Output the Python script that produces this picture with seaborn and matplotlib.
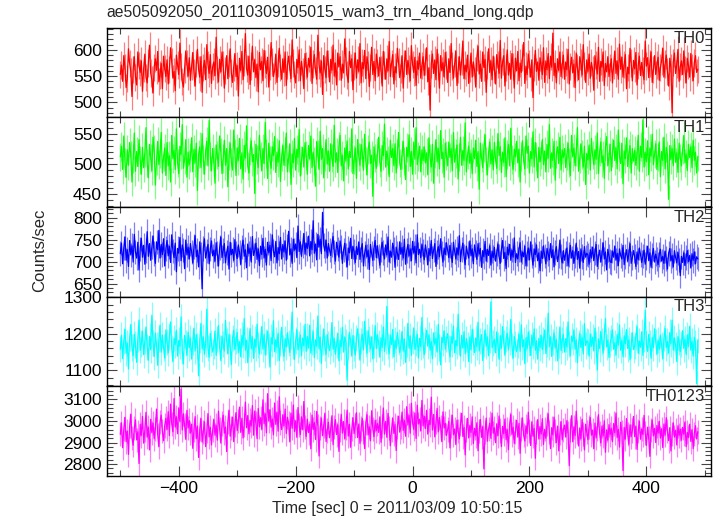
import numpy as np
import pandas as pd
import matplotlib
matplotlib.use("Agg")
import matplotlib.pyplot as plt
from matplotlib.ticker import MultipleLocator
import seaborn as sns

# light curve bins: start time and bin width in seconds
t_start = -500
t_step = 2

title = "ae505092050_20110309105015_wam3_trn_4band_long.qdp"
bands = ["TH0", "TH1", "TH2", "TH3", "TH0123"]
colors = ["#ff0000", "#00ff00", "#0000ff", "#00ffff", "#ff00ff"]
errors = [26, 24, 28, 36, 56]

th0 = [553, 571, 540, 589, 566, 528, 545, 602, 574, 559, 511, 562, 587, 548, 533, 596, 570, 557, 579, 521,
       564, 592, 548, 537, 575, 609, 556, 543, 518, 567, 583, 561, 597, 539, 552, 574, 526, 588, 565, 549,
       581, 535, 562, 604, 577, 546, 559, 522, 590, 571, 553, 613, 568, 540, 529, 563, 598, 574, 550, 585,
       542, 569, 595, 557, 531, 574, 601, 562, 548, 587, 519, 566, 580, 543, 610, 572, 555, 591, 536, 568,
       577, 551, 624, 563, 539, 582, 558, 596, 571, 527, 560, 589, 545, 574, 602, 556, 538, 567, 593, 549,
       570, 512, 584, 561, 597, 543, 576, 631, 564, 552, 588, 534, 569, 607, 558, 581, 547, 573, 520, 595,
       562, 578, 541, 599, 573, 555, 586, 529, 568, 614, 577, 549, 561, 592, 538, 574, 603, 566, 544, 583,
       557, 596, 532, 571, 588, 564, 545, 619, 575, 553, 537, 582, 566, 600, 541, 578, 559, 526, 593, 570,
       548, 584, 567, 605, 536, 573, 591, 560, 544, 628, 571, 556, 579, 515, 589, 563, 547, 598, 574, 539,
       582, 561, 609, 550, 575, 533, 594, 568, 587, 542, 573, 556, 621, 579, 552, 538, 597, 566, 583, 524,
       569, 594, 546, 581, 559, 612, 537, 576, 564, 599, 545, 587, 572, 530, 566, 605, 553, 578, 541, 592,
       575, 550, 586, 563, 531, 597, 571, 544, 583, 560, 616, 549, 574, 591, 535, 568, 556, 603, 577, 547,
       562, 589, 527, 574, 598, 553, 580, 565, 541, 608, 572, 557, 586, 532, 579, 563, 594, 546, 570, 587,
       551, 578, 604, 539, 566, 485, 573, 592, 555, 581, 543, 601, 568, 527, 589, 560, 576, 548, 595, 571,
       538, 583, 557, 612, 569, 546, 574, 598, 532, 563, 587, 552, 579, 617, 545, 571, 558, 590, 536, 565,
       594, 548, 577, 561, 529, 585, 607, 554, 573, 540, 596, 566, 582, 519, 571, 602, 557, 579, 543, 588,
       563, 535, 591, 572, 555, 618, 546, 578, 589, 531, 567, 600, 552, 574, 544, 593, 568, 527, 584, 560,
       597, 541, 575, 557, 586, 614, 536, 569, 553, 592, 574, 548, 581, 509, 566, 599, 559, 577, 542, 585,
       571, 553, 604, 538, 579, 562, 593, 545, 588, 567, 632, 551, 574, 537, 583, 561, 596, 549, 572, 590,
       544, 577, 562, 601, 535, 568, 586, 556, 573, 528, 594, 566, 543, 587, 575, 552, 610, 569, 538, 581,
       559, 592, 546, 576, 563, 523, 589, 571, 554, 605, 540, 578, 567, 596, 532, 574, 558, 587, 549, 566,
       583, 537, 571, 598, 555, 579, 544, 611, 563, 586, 548, 572, 591, 526, 567, 554, 603, 575, 541, 580,
       564, 595, 533, 570, 588, 551, 576, 560, 543, 617, 569, 585, 547, 574, 596, 538, 562, 589, 553, 571,
       586, 542, 566, 579, 603, 548, 573, 590, 559, 531, 584, 567, 480, 576, 594, 555, 572, 601, 540, 568,
       579, 553, 598, 562, 537, 584, 570, 548, 593, 566, 541, 575, 589, 557, 563]

th1 = [512, 530, 491, 547, 503, 478, 524, 498, 536, 515, 470, 509, 552, 488, 521, 496, 541, 507, 483, 528,
       494, 519, 561, 502, 477, 533, 510, 489, 545, 524, 465, 506, 538, 499, 518, 553, 485, 512, 527, 481,
       536, 497, 514, 470, 548, 509, 523, 491, 559, 502, 484, 530, 516, 566, 493, 507, 541, 478, 520, 499,
       511, 544, 487, 525, 502, 535, 456, 517, 529, 494, 551, 508, 483, 522, 538, 497, 573, 513, 489, 526,
       504, 468, 532, 515, 496, 547, 520, 484, 509, 540, 498, 526, 462, 514, 535, 503, 490, 557, 518, 481,
       527, 506, 543, 492, 519, 475, 531, 510, 564, 497, 485, 522, 539, 504, 516, 451, 533, 508, 494, 548,
       513, 489, 526, 501, 570, 518, 476, 535, 507, 493, 529, 514, 546, 486, 520, 503, 539, 471, 512, 531,
       498, 521, 552, 487, 510, 534, 466, 517, 502, 543, 490, 525, 511, 558, 480, 506, 528, 495, 536, 514,
       483, 531, 509, 547, 494, 520, 505, 463, 538, 517, 491, 555, 508, 526, 477, 513, 541, 500, 522, 488,
       534, 510, 496, 565, 503, 519, 486, 530, 548, 497, 515, 472, 527, 506, 539, 492, 521, 511, 559, 484,
       508, 527, 476, 541, 512, 498, 533, 519, 490, 550, 505, 482, 524, 537, 501, 515, 446, 529, 510, 493,
       520, 545, 503, 488, 531, 514, 567, 495, 522, 507, 479, 540, 511, 526, 497, 534, 485, 518, 553, 502,
       491, 516, 538, 505, 474, 528, 512, 549, 496, 521, 483, 537, 508, 561, 499, 513, 530, 487, 524, 506,
       529, 502, 519, 482, 544, 510, 495, 533, 468, 517, 541, 504, 526, 492, 556, 509, 520, 478, 535, 514,
       497, 537, 511, 526, 489, 553, 503, 518, 532, 475, 512, 545, 498, 523, 506, 569, 487, 515, 530, 501,
       518, 484, 527, 509, 540, 496, 521, 458, 535, 511, 494, 528, 549, 505, 482, 519, 537, 500, 524, 490,
       536, 507, 493, 551, 514, 529, 486, 520, 503, 544, 479, 516, 533, 497, 560, 508, 491, 525, 512, 538,
       502, 525, 470, 513, 539, 506, 492, 547, 518, 530, 485, 521, 509, 554, 495, 536, 513, 477, 528, 504,
       515, 541, 499, 522, 487, 533, 510, 566, 493, 519, 506, 538, 473, 517, 529, 501, 545, 490, 524, 511,
       526, 494, 514, 535, 503, 481, 548, 512, 527, 497, 520, 561, 488, 509, 534, 516, 495, 530, 466, 518,
       507, 532, 490, 543, 515, 499, 524, 508, 552, 484, 521, 537, 502, 514, 476, 529, 546, 497, 511, 533,
       489, 519, 540, 506, 527, 492, 557, 513, 501, 535, 467, 522, 509, 544, 496, 518, 531, 485, 526, 505,
       523, 498, 516, 548, 488, 530, 511, 574, 495, 520, 504, 539, 482, 527, 513, 550, 499, 517, 534, 491,
       512, 537, 479, 521, 506, 545, 492, 528, 515, 441, 531, 508, 526, 497, 542, 503, 519, 486, 535, 510,
       497, 524, 548, 502, 517, 489, 533, 511, 529, 494, 540, 506, 520, 485, 513]

th2 = [718, 742, 695, 731, 756, 703, 727, 689, 748, 715, 736, 699, 762, 722, 708, 744, 681, 729, 753, 710,
       737, 694, 725, 768, 712, 741, 703, 733, 758, 719, 696, 745, 727, 771, 708, 739, 716, 752, 690, 730,
       748, 713, 735, 698, 761, 724, 709, 742, 677, 730, 719, 755, 702, 738, 726, 684, 749, 715, 733, 706,
       741, 722, 697, 734, 759, 711, 726, 688, 745, 717, 638, 730, 752, 708, 724, 739, 695, 729, 747, 713,
       726, 701, 743, 718, 690, 732, 756, 709, 725, 741, 697, 721, 735, 683, 744, 716, 728, 703, 750, 719,
       707, 738, 721, 694, 733, 749, 712, 727, 686, 740, 718, 731, 699, 757, 714, 725, 742, 705, 729, 691,
       735, 716, 753, 708, 728, 692, 744, 720, 737, 702, 761, 724, 711, 746, 697, 732, 718, 755, 706, 739,
       722, 747, 703, 734, 769, 715, 729, 696, 751, 726, 740, 709, 781, 723, 745, 712, 736, 764, 717, 742,
       730, 758, 713, 746, 727, 793, 719, 740, 704, 762, 733, 751, 718, 812, 737, 724, 749, 708, 741, 726,
       714, 739, 757, 722, 701, 744, 729, 710, 747, 733, 696, 726, 742, 715, 688, 731, 720, 753, 707, 735,
       723, 698, 734, 716, 745, 705, 728, 741, 690, 719, 737, 711, 726, 682, 739, 718, 703, 731, 748, 709,
       736, 713, 692, 727, 744, 721, 706, 738, 715, 756, 699, 724, 710, 742, 728, 687, 733, 719, 705, 745,
       717, 732, 708, 751, 694, 725, 739, 713, 729, 702, 746, 720, 735, 697, 761, 716, 728, 709, 740, 723,
       704, 738, 721, 693, 730, 714, 748, 707, 726, 741, 689, 722, 734, 711, 752, 718, 699, 731, 716, 743,
       726, 709, 737, 716, 698, 744, 723, 706, 731, 715, 759, 700, 727, 742, 712, 693, 735, 720, 708, 747,
       713, 729, 695, 738, 722, 705, 741, 717, 730, 687, 725, 711, 746, 701, 728, 714, 736, 692, 724, 709,
       732, 701, 719, 740, 712, 696, 727, 748, 707, 721, 684, 733, 715, 739, 703, 726, 710, 754, 698, 718,
       706, 728, 743, 699, 722, 711, 735, 690, 718, 731, 704, 745, 713, 692, 729, 716, 738, 702, 720, 679,
       724, 707, 736, 713, 695, 730, 718, 704, 741, 709, 727, 688, 721, 734, 700, 714, 749, 711, 697, 725,
       703, 719, 731, 690, 716, 737, 708, 725, 696, 713, 742, 705, 723, 685, 729, 712, 698, 734, 710, 719,
       715, 694, 727, 708, 733, 702, 720, 739, 689, 711, 726, 699, 717, 743, 706, 722, 681, 728, 713, 700,
       698, 724, 710, 735, 703, 719, 691, 729, 714, 706, 737, 693, 712, 727, 701, 718, 741, 696, 709, 725,
       711, 689, 722, 704, 731, 716, 698, 713, 726, 694, 709, 735, 702, 720, 687, 714, 730, 699, 717, 706,
       693, 716, 728, 701, 712, 696, 724, 707, 683, 719, 730, 702, 714, 688, 725, 709, 697, 721, 704, 668,
       712, 698, 720, 691, 709, 725, 700, 714, 686, 718, 703, 722, 695, 711, 706]

th3 = [1158, 1196, 1132, 1181, 1213, 1147, 1175, 1104, 1189, 1226, 1163, 1140, 1199, 1171, 1122, 1186, 1238, 1155, 1174, 1207,
       1143, 1180, 1219, 1165, 1128, 1193, 1157, 1251, 1176, 1138, 1202, 1169, 1114, 1185, 1224, 1150, 1197, 1163, 1134, 1211,
       1177, 1148, 1193, 1233, 1160, 1125, 1188, 1171, 1210, 1139, 1182, 1166, 1247, 1154, 1118, 1196, 1175, 1142, 1205, 1162,
       1189, 1131, 1178, 1216, 1153, 1198, 1167, 1085, 1184, 1229, 1159, 1192, 1144, 1173, 1268, 1161, 1136, 1201, 1176, 1150,
       1167, 1208, 1141, 1185, 1223, 1162, 1128, 1194, 1172, 1153, 1237, 1180, 1146, 1199, 1164, 1116, 1188, 1210, 1157, 1181,
       1204, 1149, 1179, 1137, 1196, 1169, 1242, 1155, 1183, 1121, 1174, 1215, 1160, 1192, 1133, 1186, 1163, 1227, 1170, 1145,
       1181, 1220, 1158, 1199, 1142, 1177, 1208, 1166, 1109, 1190, 1172, 1236, 1151, 1184, 1163, 1202, 1127, 1175, 1218, 1161,
       1138, 1187, 1164, 1203, 1176, 1149, 1195, 1260, 1168, 1130, 1182, 1211, 1156, 1173, 1197, 1140, 1189, 1167, 1226, 1152,
       1193, 1161, 1224, 1147, 1178, 1206, 1135, 1184, 1166, 1249, 1159, 1191, 1119, 1179, 1213, 1162, 1143, 1198, 1173, 1154,
       1176, 1231, 1158, 1187, 1144, 1170, 1201, 1126, 1183, 1164, 1218, 1150, 1192, 1177, 1073, 1165, 1204, 1181, 1139, 1196,
       1162, 1142, 1189, 1214, 1167, 1128, 1181, 1199, 1156, 1235, 1174, 1147, 1209, 1185, 1159, 1192, 1131, 1171, 1223, 1160,
       1198, 1175, 1136, 1190, 1163, 1219, 1152, 1180, 1276, 1166, 1145, 1197, 1171, 1212, 1137, 1183, 1160, 1204, 1178, 1149,
       1168, 1207, 1153, 1186, 1122, 1173, 1229, 1161, 1194, 1141, 1182, 1216, 1157, 1175, 1199, 1134, 1188, 1165, 1245, 1170,
       1143, 1184, 1210, 1166, 1197, 1155, 1179, 1132, 1203, 1172, 1188, 1150, 1226, 1163, 1115, 1191, 1176, 1208, 1158, 1185,
       1201, 1160, 1137, 1193, 1174, 1221, 1148, 1182, 1167, 1254, 1177, 1139, 1196, 1161, 1206, 1145, 1187, 1170, 1124, 1192,
       1157, 1213, 1178, 1149, 1189, 1165, 1232, 1153, 1180, 1198, 1127, 1174, 1211, 1166, 1192, 1140, 1183, 1288, 1162, 1176,
       1185, 1148, 1206, 1170, 1130, 1195, 1161, 1220, 1175, 1143, 1187, 1202, 1156, 1179, 1240, 1167, 1134, 1193, 1172, 1151,
       1171, 1199, 1152, 1225, 1164, 1184, 1118, 1190, 1159, 1205, 1176, 1141, 1197, 1168, 1214, 1155, 1181, 1131, 1188, 1163,
       1196, 1157, 1182, 1211, 1146, 1173, 1257, 1165, 1192, 1138, 1177, 1203, 1161, 1185, 1126, 1170, 1219, 1154, 1183, 1199,
       1150, 1187, 1164, 1233, 1172, 1140, 1194, 1179, 1209, 1158, 1184, 1121, 1175, 1201, 1163, 1190, 1145, 1228, 1168, 1181,
       1178, 1139, 1200, 1166, 1191, 1153, 1216, 1172, 1101, 1186, 1160, 1207, 1179, 1148, 1193, 1242, 1164, 1183, 1135, 1174,
       1189, 1211, 1158, 1176, 1143, 1198, 1169, 1225, 1155, 1182, 1137, 1195, 1173, 1212, 1160, 1184, 1129, 1170, 1203, 1157,
       1166, 1192, 1220, 1147, 1180, 1163, 1206, 1141, 1187, 1265, 1171, 1152, 1199, 1176, 1133, 1190, 1162, 1214, 1178, 1145,
       1183, 1158, 1197, 1170, 1131, 1188, 1215, 1162, 1179, 1147, 1204, 1174, 1238, 1156, 1189, 1168, 1124, 1193, 1177, 1151,
       1172, 1209, 1160, 1186, 1143, 1197, 1166, 1221, 1155, 1180, 1139, 1191, 1175, 1063, 1184]

th0123 = [2938, 2991, 2876, 2962, 3017, 2904, 2953, 2845, 2976, 3032, 2921, 2887, 2968, 3005, 2912, 2950, 2803, 2984, 2933, 3021,
          2897, 2958, 3040, 2925, 2971, 2866, 3008, 2945, 2990, 2917, 2963, 3055, 2936, 2882, 2994, 3027, 2953, 2908, 2979, 3012,
          2961, 3043, 2932, 3078, 2987, 2950, 3104, 2972, 3019, 2941, 3061, 2996, 3148, 2958, 3033, 2980, 2915, 3049, 2967, 3002,
          2944, 2985, 2873, 2959, 3020, 2918, 2976, 2831, 2963, 3011, 2902, 2948, 2996, 2881, 2953, 3034, 2926, 2970, 2889, 2957,
          3006, 2934, 2980, 2911, 3045, 2962, 2897, 2988, 3027, 2943, 2972, 2858, 2995, 3050, 2929, 2966, 3018, 2904, 2981, 3039,
          2955, 2998, 3064, 2947, 3012, 2921, 2983, 3087, 2968, 3025, 2940, 3003, 2976, 3071, 2934, 3046, 2990, 2918, 3058, 2973,
          3015, 2962, 3098, 2987, 3033, 2945, 3126, 2999, 3052, 2971, 3009, 2936, 3083, 2984, 3041, 2952, 3112, 2993, 2960, 3029,
          2978, 3055, 2942, 3017, 2989, 2903, 3036, 2966, 3074, 2951, 3001, 2924, 3062, 2981, 2937, 3019, 2959, 3090, 2972, 2928,
          3008, 2946, 2985, 2871, 3027, 2960, 2993, 2914, 3044, 2975, 2838, 2967, 3013, 2931, 2978, 3036, 2905, 2956, 2994, 2922,
          2963, 3024, 2890, 2971, 3006, 2937, 2982, 2859, 2957, 3031, 2944, 2997, 2916, 2968, 3050, 2930, 2985, 2878, 2961, 3015,
          2941, 2979, 3038, 2923, 2986, 2896, 2965, 3011, 2950, 2872, 2992, 3029, 2935, 2973, 2908, 3047, 2964, 2927, 3003, 2955,
          2988, 2947, 3019, 2901, 2975, 3060, 2939, 2998, 2924, 3035, 2969, 2885, 2957, 3014, 2942, 2983, 2863, 2971, 3022, 2948,
          2972, 3041, 2956, 3002, 2929, 3066, 2981, 3025, 2943, 3082, 2990, 2961, 3037, 2919, 3073, 2986, 3008, 2954, 3095, 2977,
          3021, 2965, 3049, 2939, 3003, 2982, 3110, 2958, 3030, 2926, 2995, 3058, 2949, 3016, 2971, 2904, 3042, 2967, 2989, 2933,
          2960, 2998, 2875, 2977, 3026, 2936, 2963, 2891, 3004, 2952, 2917, 2986, 3035, 2928, 2970, 2843, 2958, 3012, 2921, 2980,
          2946, 3019, 2895, 2966, 2931, 2992, 2862, 2954, 3007, 2924, 2973, 2778, 2949, 3013, 2906, 2962, 2990, 2919, 3036, 2943,
          2968, 2899, 2987, 2932, 3023, 2956, 2881, 2975, 2940, 3009, 2913, 2960, 2867, 2984, 3030, 2937, 2971, 2896, 2951, 3003,
          2925, 2989, 2850, 2963, 3014, 2934, 2907, 2978, 2941, 3040, 2952, 2886, 2996, 2929, 2966, 2827, 2948, 3006, 2916, 2974,
          2939, 3010, 2891, 2961, 2920, 2984, 3033, 2947, 2872, 2969, 2935, 3018, 2954, 2900, 2976, 2861, 2943, 2997, 2912, 2958,
          2981, 2926, 3002, 2944, 2793, 2957, 3024, 2903, 2973, 2932, 3045, 2950, 2884, 2968, 2917, 3008, 2938, 2866, 2985, 2949,
          2913, 2972, 3016, 2934, 2958, 2871, 2990, 2921, 2965, 3029, 2942, 2898, 2977, 2930, 3001, 2855, 2959, 2911, 2983, 2937,
          2966, 2904, 2988, 2945, 3037, 2923, 2961, 2879, 2994, 2948, 2770, 2970, 2916, 3011, 2939, 2892, 2982, 2928, 2956, 3021,
          2927, 2975, 2868, 2953, 2999, 2915, 2962, 2937, 3026, 2944, 2887, 2971, 2920, 2836, 2958, 3004, 2931, 2966, 2900, 2979,
          2943, 2998, 2921, 2964, 2877, 2986, 2935, 3015, 2952, 2909, 2969, 2861, 2940, 2991, 2925, 2957, 2888, 2978, 2933, 2962,
          2911, 2970, 2938, 2996, 2881, 2947, 2923, 2985, 2905, 2959, 2872, 2941, 2978, 2916, 2950]

series = [th0, th1, th2, th3, th0123]
ylims = [(471, 642), (428, 578), (620, 824), (1056, 1302), (2745, 3160)]
ymajor = [50, 50, 50, 100, 100]
yminor = [10, 10, 10, 20, 20]

sns.set_style("ticks")
plt.rcParams["font.family"] = ["Liberation Sans", "DejaVu Sans"]

fig, axes = plt.subplots(5, 1, sharex=True, figsize=(7.17, 5.16), dpi=100)
fig.subplots_adjust(left=0.149, right=0.992, top=0.946, bottom=0.0775, hspace=0)

for ax, band, col, err, vals, ylim, mj, mn in zip(axes, bands, colors, errors, series,
                                                   ylims, ymajor, yminor):
    vals = np.array(vals)
    t = t_start + t_step * np.arange(len(vals))
    df = pd.DataFrame({"time": t, "rate": vals})
    # error bars in a lighter shade, then the light curve
    ax.vlines(df["time"], df["rate"] - err, df["rate"] + err, color=col, alpha=0.5, lw=0.9)
    sns.lineplot(data=df, x="time", y="rate", ax=ax, color=col, lw=0.9)
    ax.set_ylim(*ylim)
    ax.set_xlim(-523, 511)
    ax.set_ylabel("")
    ax.set_xlabel("")
    ax.yaxis.set_major_locator(MultipleLocator(mj))
    ax.yaxis.set_minor_locator(MultipleLocator(mn))
    ax.xaxis.set_major_locator(MultipleLocator(200))
    ax.xaxis.set_minor_locator(MultipleLocator(100))
    ax.tick_params(which="both", direction="in", top=True, right=True, width=0.8, colors="#444444",
                   labelcolor="black", labelsize=12.5)
    ax.tick_params(which="major", length=7)
    ax.tick_params(which="minor", length=4)
    for sp in ax.spines.values():
        sp.set_color("black")
        sp.set_linewidth(1.0)
    ax.text(0.99, 0.97, band, transform=ax.transAxes, ha="right", va="top", fontsize=12)

fig.text(397 / 717, 1 - 508 / 516, "Time [sec] 0 = 2011/03/09 10:50:15", ha="center", va="center", fontsize=11.5)
fig.text(0.149, 1 - 12 / 516, title, ha="left", va="center", fontsize=11.3)
fig.text(40 / 717, 1 - 250 / 516, "Counts/sec", rotation=90, ha="center", va="center", fontsize=12)

fig.savefig("out.png", dpi=100)
